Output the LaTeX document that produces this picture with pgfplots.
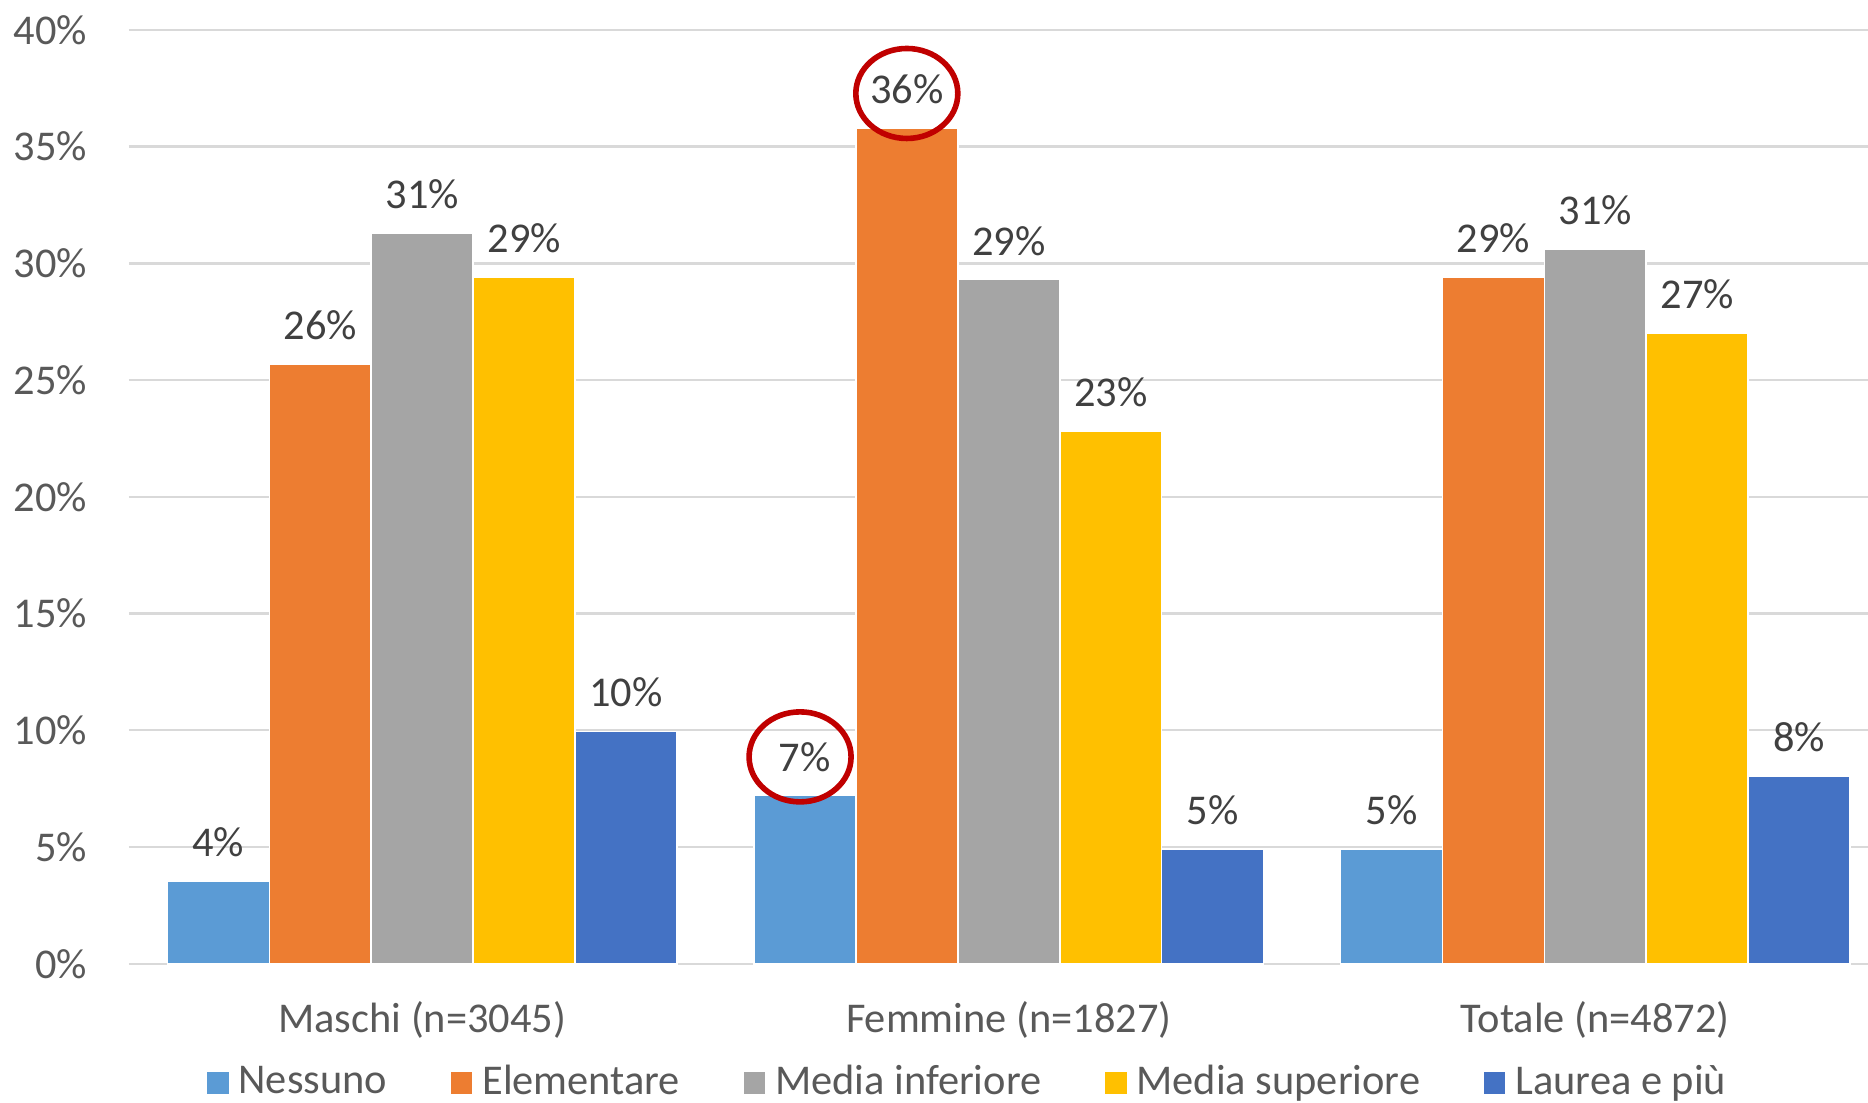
\documentclass[border=0pt]{standalone}
\usepackage{pgfplots}
\pgfplotsset{compat=1.18}
\usepackage{fontspec}
\setmainfont{Carlito}
\usetikzlibrary{shapes.geometric}
\definecolor{cA}{HTML}{5B9BD5}
\definecolor{cB}{HTML}{ED7D31}
\definecolor{cC}{HTML}{A5A5A5}
\definecolor{cD}{HTML}{FFC000}
\definecolor{cE}{HTML}{4472C4}
\definecolor{gridc}{HTML}{D9D9D9}
\definecolor{tickc}{HTML}{595959}
\definecolor{labc}{HTML}{404040}
\definecolor{circred}{HTML}{C00000}
\pgfplotsset{sq legend/.style={legend image code/.code={\fill[##1, draw=none] (0pt,-2.7pt) rectangle (5.4pt,2.7pt);}}}
\begin{document}
\begin{tikzpicture}[font=\fontsize{10.6}{12.7}\selectfont]
\begin{axis}[
 at={(0,0)}, anchor=south west,
 scale only axis, width=434.75pt, height=233.5pt,
 xmin=-0.5, xmax=2.465, ymin=0, ymax=40,
 ytick={0,5,...,40},
 yticklabel={\pgfmathprintnumber{\tick}\%},
 /pgf/number format/assume math mode=true,
 xtick={0,1,2},
 xticklabels={Maschi (n=3045), Femmine (n=1827), Totale (n=4872)},
 major tick length=0pt,
 axis line style={draw=none},
 ymajorgrids, grid style={color=gridc, line width=0.6pt},
 yticklabel style={text=tickc, xshift=-7pt},
 xticklabel style={text=tickc, yshift=-6pt},
 ybar, bar width=0.1738,
 nodes near coords={\pgfmathprintnumber[fixed,precision=0]{\pgfplotspointmeta}\%},
 every node near coord/.append style={text=labc, yshift=2.5pt},
 legend columns=5,
 legend style={at={(0.4845,0)}, yshift=-29.8pt, anchor=center, draw=none, fill=none,
   text=tickc, /tikz/every even column/.append style={column sep=13.4pt},
   nodes={inner sep=2.5pt}},
 clip=false,
]
\addplot[fill=cA, draw=white, line width=0.4pt, bar shift=-0.3476, sq legend] coordinates {(0,3.55) (1,7.2) (2,4.9)};
\addplot[fill=cB, draw=white, line width=0.4pt, bar shift=-0.1738, sq legend] coordinates {(0,25.7) (1,35.8) (2,29.4)};
\addplot[fill=cC, draw=white, line width=0.4pt, bar shift=0, sq legend] coordinates {(0,31.3) (1,29.3) (2,30.6)};
\addplot[fill=cD, draw=white, line width=0.4pt, bar shift=0.1738, sq legend] coordinates {(0,29.4) (1,22.8) (2,27.0)};
\addplot[fill=cE, draw=white, line width=0.4pt, bar shift=0.3476, sq legend] coordinates {(0,9.95) (1,4.9) (2,8.05)};
\legend{Nessuno, Elementare, Media inferiore, Media superiore, Laurea e più}
\addplot[draw=none, fill=none, bar shift=-0.1738, forget plot,
  nodes near coords={\phantom{0}},
  every node near coord/.append style={draw=circred, ellipse, line width=1.4pt, minimum width=25.5pt, minimum height=22.5pt, inner sep=0pt, anchor=center, yshift=6.1pt}]
  coordinates {(1,35.8)};
\addplot[draw=none, fill=none, bar shift=-0.3476, forget plot,
  nodes near coords={\phantom{0}},
  every node near coord/.append style={draw=circred, ellipse, line width=1.4pt, minimum width=25.5pt, minimum height=22.5pt, inner sep=0pt, anchor=center, yshift=7.2pt, xshift=-1.2pt}]
  coordinates {(1,7.2)};
\end{axis}
\pgfresetboundingbox
\path (-32.25pt,-34.8pt) rectangle (434.75pt,240.95pt);
\end{tikzpicture}
\end{document}
